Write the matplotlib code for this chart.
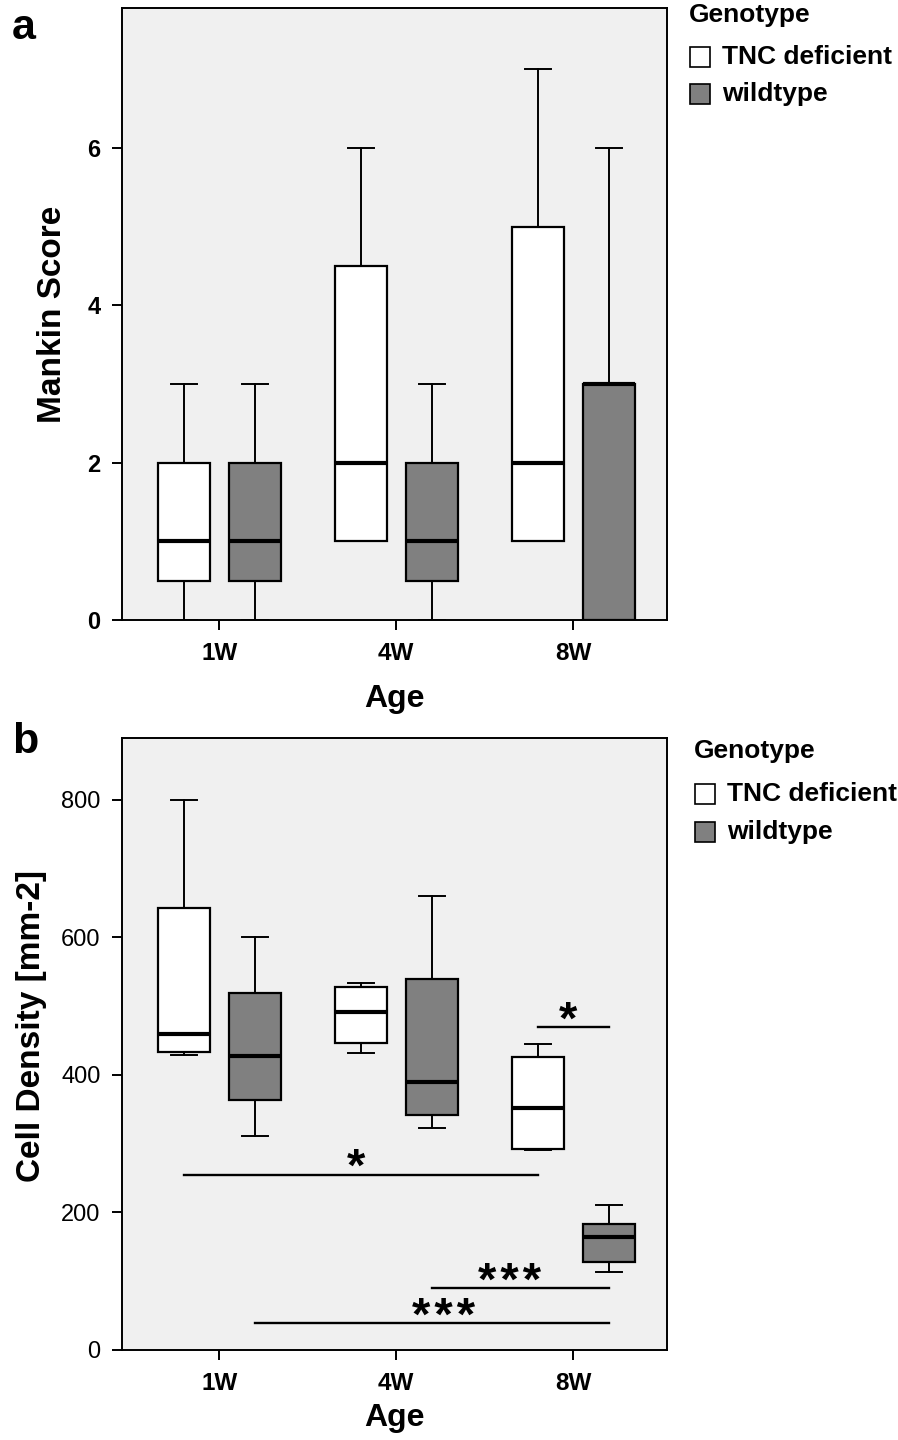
import matplotlib.pyplot as plt
from matplotlib.patches import Rectangle

plt.rcParams['font.family'] = ['Liberation Sans', 'DejaVu Sans']

ages = ['1W', '4W', '8W']
genotypes = ['TNC deficient', 'wildtype']
colors = {'TNC deficient': 'white', 'wildtype': '#808080'}

# panel a: Mankin score, (whislo, q1, med, q3, whishi) per age
mankin_tnc = [(0, 0.5, 1, 2, 3), (1, 1, 2, 4.5, 6), (1, 1, 2, 5, 7)]
mankin_wt = [(0, 0.5, 1, 2, 3), (0, 0.5, 1, 2, 3), (0, 0, 3, 3, 6)]

# panel b: cell density [mm-2]
dens_tnc = [(429, 434, 460, 643, 800), (432, 446, 492, 528, 534), (291, 292, 352, 426, 445)]
dens_wt = [(311, 364, 428, 519, 601), (323, 342, 390, 540, 660), (114, 128, 164, 183, 211)]

# significance lines: (x from, x to, y, star x, label)
sig_b = [(1.8, 2.2, 470, 1.97, '*'), (-0.2, 1.8, 255, 0.77, '*'),
         (1.2, 2.2, 90, 1.64, '***'), (0.2, 2.2, 39, 1.27, '***')]

offset = 0.2
bw = 0.294
W, H = 898, 1440


def stats(vals, label):
    lo, q1, med, q3, hi = vals
    return dict(whislo=lo, q1=q1, med=med, q3=q3, whishi=hi, fliers=[], label=label)


def draw(ax, tnc, wt, ylim, yticks, tick_bold):
    for data, g, sgn in [(tnc, genotypes[0], -1), (wt, genotypes[1], 1)]:
        st = [stats(v, a) for v, a in zip(data, ages)]
        pos = [i + sgn * offset for i in range(len(ages))]
        ax.bxp(st, positions=pos, widths=bw, capwidths=bw / 2, patch_artist=True,
               showfliers=False, manage_ticks=False,
               boxprops=dict(facecolor=colors[g], edgecolor='black', linewidth=1.6),
               medianprops=dict(color='black', linewidth=3),
               whiskerprops=dict(color='black', linewidth=1.4),
               capprops=dict(color='black', linewidth=1.4))
    ax.set_facecolor('#f0f0f0')
    ax.set_xlim(-0.55, 2.53)
    ax.set_ylim(*ylim)
    ax.set_xticks(range(len(ages)))
    ax.set_xticklabels(ages, fontsize=17.5, fontweight='bold')
    ax.set_yticks(yticks)
    ax.set_yticklabels([str(t) for t in yticks], fontsize=17,
                       fontweight='bold' if tick_bold else 'normal')
    ax.tick_params(length=7.5, width=1.4, pad=8)
    for s in ax.spines.values():
        s.set_linewidth(1.4)


def legend(fig, x0, ytitle, baselines):
    fig.text(x0 / W, 1 - ytitle / H, 'Genotype', fontsize=19, fontweight='bold', va='center')
    for g, yb in zip(genotypes, baselines):
        yc = yb - 7.5
        fig.add_artist(Rectangle(((x0 + 1) / W, 1 - (yc + 10) / H), 20 / W, 20 / H,
                                 transform=fig.transFigure, facecolor=colors[g],
                                 edgecolor='black', linewidth=1.2))
        fig.text((x0 + 33) / W, 1 - yb / H, g, fontsize=19, fontweight='bold', va='baseline')


fig = plt.figure(figsize=(W / 100, H / 100), dpi=100)
ax1 = fig.add_axes([122 / W, 1 - 620 / H, 545 / W, 612 / H])
ax2 = fig.add_axes([122 / W, 1 - 1350 / H, 545 / W, 612 / H])

draw(ax1, mankin_tnc, mankin_wt, (0, 7.78), [0, 2, 4, 6], True)
ax1.set_ylabel('Mankin Score', fontsize=24, fontweight='bold', labelpad=14)
ax1.set_xlabel('Age', fontsize=23, fontweight='bold', labelpad=14)

draw(ax2, dens_tnc, dens_wt, (0, 890), [0, 200, 400, 600, 800], False)
ax2.set_ylabel('Cell Density [mm-2]', fontsize=24, fontweight='bold', labelpad=10)
ax2.yaxis.label.set_y(0.53)
ax2.set_xlabel('Age', fontsize=23, fontweight='bold', labelpad=6)

for x0, x1, y, xs, lab in sig_b:
    ax2.plot([x0, x1], [y, y], color='black', linewidth=1.7)
    ax2.annotate('\u200a'.join(lab), (xs, y), xytext=(0, 4), textcoords='offset points',
                 ha='center', va='center', fontsize=34, fontweight='bold')

legend(fig, 689, 15, [64, 101])
legend(fig, 694, 751, [801, 839])

fig.text(12 / W, 1 - 8 / H, 'a', fontsize=31, fontweight='bold', va='top')
fig.text(12 / W, 1 - 722 / H, 'b', fontsize=31, fontweight='bold', va='top')

fig.savefig('out.png', dpi=100)
